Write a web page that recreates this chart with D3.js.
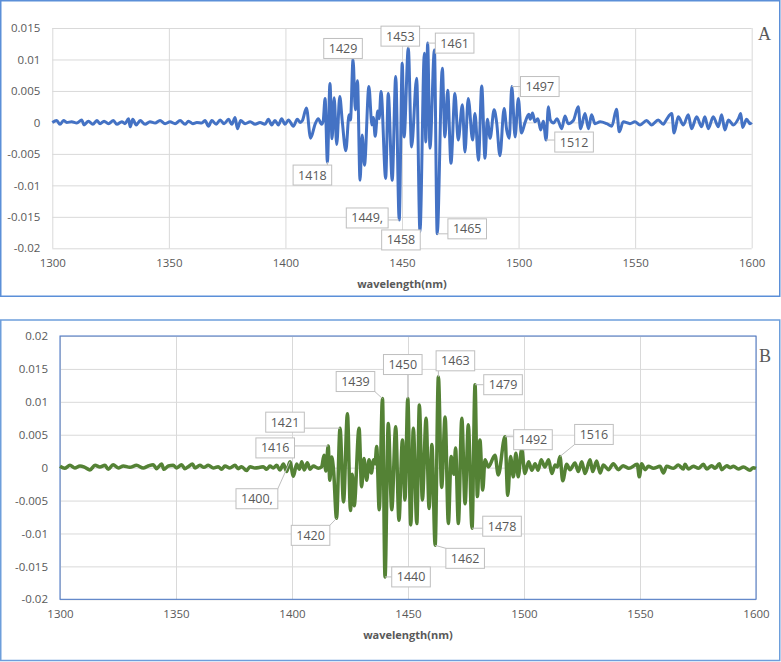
<!DOCTYPE html>
<html>
<head>
<meta charset="utf-8"/>
<title>wavelength spectra A / B</title>
<script src="https://cdn.jsdelivr.net/npm/d3@7"></script>
<style>
  body { margin: 0; background: #fff; }
  svg text { font-family: "Open Sans", "Liberation Sans", sans-serif; fill: #595959; }
</style>
</head>
<body>
<svg id="chart" width="781" height="662"></svg>
<script>
// ---- data ----
var xTicks = [1300, 1350, 1400, 1450, 1500, 1550, 1600];
var yTicksA = [0.015, 0.01, 0.005, 0, -0.005, -0.01, -0.015, -0.02];
var yTicksB = [0.02, 0.015, 0.01, 0.005, 0, -0.005, -0.01, -0.015, -0.02];
var xTitle = "wavelength(nm)";

// turning points of the signal, [wavelength nm, value]
var specA = [[1300,0],[1301.9,0.0003],[1303.3,-0.0003],[1304.8,0.0003],[1306.2,0],[1308.3,0.0001],[1310.5,-0.0001],
  [1312.6,0.0004],[1313.6,-0.0004],[1315.5,0.0002],[1317.4,-0.0003],[1319.1,0.0003],[1320.5,-0.0002],[1322.2,0.0002],
  [1324.1,-0.0002],[1326.2,0.0003],[1327.7,-0.0003],[1329.8,0.0001],[1331.2,-0.0002],[1332.7,0.0006],[1333.4,-0.0007],
  [1334.5,0.0005],[1336,-0.0004],[1337.7,0.0003],[1339.8,-0.0003],[1341.9,0.0001],[1344.1,-0.0001],[1346.2,0.0003],
  [1348.4,-0.0002],[1350.5,0.0001],[1352.7,-0.0002],[1354.8,0.0003],[1357,-0.0003],[1358.4,0.0002],[1360.3,-0.0002],
  [1362,0],[1364.1,-0.0001],[1365.5,0.0003],[1367,-0.0006],[1368.4,0.0003],[1370.3,-0.0003],[1372,0.0004],[1373.7,-0.0002],
  [1375.6,0.0005],[1377,-0.0003],[1378.4,0.0008],[1379.4,-0.001],[1380.8,0.0003],[1382.7,-0.0002],[1384.9,0.0001],
  [1387,-0.0003],[1389.1,0],[1391.2,-0.0003],[1392.7,0.0005],[1394.1,-0.0004],[1395.5,0.0003],[1397,-0.0004],
  [1398.4,0.0006],[1399.8,-0.0003],[1401.3,0.0004],[1403.4,-0.0006],[1405.1,0.0005],[1406.3,0],[1407.3,0.0003],
  [1409,0.0023],[1410.8,-0.0025],[1412.7,-0.0003],[1414.1,0.0006],[1415.5,-0.0003],[1416.2,0.0002],[1417,0.0038],
  [1418,-0.0063],[1419.1,0.0062],[1420,-0.0026],[1420.9,0.0039],[1422,-0.0035],[1423.3,0.0041],[1424.4,0.0001],
  [1425.9,-0.0045],[1427.3,0.0012],[1427.9,0.0004],[1429,0.01],[1430,0.002],[1430.9,0.0066],[1432,-0.0092],
  [1432.9,-0.002],[1433.9,-0.0068],[1435.8,0.0057],[1437.1,-0.0004],[1437.7,0.0008],[1438.5,-0.0022],[1439.6,0.0018],
  [1440.2,0.0006],[1441,0.0049],[1443,-0.0089],[1444.1,0.0046],[1445.8,-0.0092],[1447.3,0.0073],[1448.8,-0.0155],
  [1450.1,0.0094],[1450.9,-0.0023],[1452.7,0.0118],[1454.1,-0.0039],[1456.3,0.007],[1457.7,-0.0174],[1459.6,0.011],
  [1460.2,-0.0031],[1461,0.0126],[1462,-0.0041],[1463.9,0.0115],[1465.1,-0.0177],[1467.3,0.0086],[1468.4,-0.0023],
  [1469.6,0.0051],[1471,-0.0065],[1472.7,0.0046],[1474.1,-0.0028],[1475.9,0.0028],[1477,-0.0047],[1478.4,0.0038],
  [1480.3,-0.0028],[1481.3,0.0014],[1482.8,-0.006],[1484.2,0.0058],[1485.6,-0.0057],[1486.6,0.0005],[1487.8,-0.0025],
  [1489.5,0.002],[1490.6,0],[1492,-0.0053],[1493.8,0.0022],[1494.9,-0.0012],[1496,-0.0025],[1497.1,0.0057],
  [1498.5,-0.0023],[1499.9,0.0038],[1501.2,-0.0017],[1502.8,0],[1504.4,0.0013],[1505,0.0005],[1506,0.0015],
  [1507,0.0001],[1508.3,0.0006],[1509.5,-0.0012],[1510.6,0.0002],[1511.8,-0.0028],[1512.8,0.0025],[1513.6,0.0004],
  [1515,-0.0001],[1516.5,0.0006],[1518.5,-0.001],[1519.9,0.001],[1521.3,-0.0002],[1523.5,0.0003],[1525.6,0.0025],
  [1526.6,-0.001],[1528.5,0.0014],[1530,-0.001],[1531.3,0.0012],[1532.8,-0.0002],[1535,0.0001],[1537.8,-0.0002],
  [1540,-0.0006],[1542,0.0021],[1543.2,-0.0015],[1544.9,0.0001],[1547.8,-0.0002],[1549.9,0.0001],[1552.1,-0.0004],
  [1554.9,0.0003],[1557,-0.0004],[1559.9,0.0004],[1562.1,-0.0003],[1563.5,0.0005],[1565.7,0.0014],[1566.7,-0.0017],
  [1568.5,0.0009],[1570.7,-0.0004],[1572.8,0.0012],[1574.2,-0.001],[1576.4,0.0009],[1578.5,-0.0007],[1579.9,0.0009],
  [1581.4,-0.001],[1583.5,0.0009],[1585.7,-0.0007],[1587.1,0.0012],[1588.5,-0.0012],[1590,0.0004],[1592.1,-0.0004],
  [1594.3,0.0006],[1595.3,0.0014],[1596.1,-0.0008],[1597.8,0.0005],[1599.3,-0.0002],[1600,0]];

var specB = [[1300,0.0002],[1302,-0.0001],[1304.3,0.00035],[1306.4,-0.00005],[1308.6,0.00025],[1310.7,0.00005],
  [1312.9,-0.00035],[1315.1,0.00035],[1317.2,0.0001],[1319.4,0.00035],[1320.8,-0.00025],[1322.9,0.00045],
  [1325.1,-0.00005],[1327.3,0.00025],[1330.1,0.00005],[1333,0.00035],[1335.9,-0.00005],[1338,0.00025],[1340.2,0.00045],
  [1341.6,-0.00015],[1343.8,0.00055],[1344.8,-0.00025],[1346.7,0.00025],[1348.8,0.00035],[1350.3,-0.00005],
  [1352.4,0.00045],[1353.8,-0.00015],[1355.3,0.00015],[1357.1,0.00055],[1358.2,-0.00005],[1360.3,0.00035],[1362,0.00005],
  [1363.9,0.00035],[1366.1,-0.00005],[1368.2,0.00015],[1369.6,-0.00025],[1371.1,0.00025],[1373.2,-0.00005],
  [1375.4,0.00035],[1376.8,-0.00015],[1378.3,0.00015],[1380.4,-0.00045],[1381.9,0.00015],[1384,-0.00005],
  [1386.2,0.00005],[1387.6,0.00015],[1389.1,-0.00025],[1390.5,0.00025],[1391.9,-0.00005],[1393.4,0.00035],
  [1394.8,-0.00035],[1396.3,0.00055],[1397.7,-0.0006],[1399.1,0.0009],[1400.6,-0.0013],[1402,0.00055],[1403.2,-0.00025],
  [1404.2,0.0009],[1405.3,-0.00035],[1406.6,0.00075],[1407.8,-0.00025],[1409.2,0.00025],[1411.3,-0.0001],
  [1412.8,0.00015],[1413.8,0.0019],[1414.6,-0.0005],[1415.6,0.0033],[1416.3,-0.0019],[1417.1,0.0016],[1417.9,-0.0003],
  [1419.2,-0.0077],[1420.7,0.006],[1422.2,-0.0052],[1423.9,0.0082],[1425.2,-0.0065],[1426,-0.001],[1426.8,-0.0058],
  [1428.9,0.006],[1430,-0.0029],[1431,0.0014],[1432.2,-0.0019],[1433.2,0.0012],[1434.2,-0.0008],[1435.2,0.0012],
  [1435.8,0.0006],[1436.5,0.0032],[1437.6,-0.0064],[1439,0.0105],[1440.1,-0.0166],[1441.5,0.0067],[1443,-0.0064],
  [1444.7,0.0062],[1446.1,-0.008],[1447.6,0.0042],[1448.7,-0.0049],[1449.9,0.0105],[1451.2,-0.0087],[1452.3,0.006],
  [1453.8,-0.0085],[1454.9,0.0095],[1456.2,-0.0049],[1457.8,0.0075],[1459.1,-0.0062],[1460.3,0.0035],[1461.7,-0.0118],
  [1463.1,0.0138],[1464.5,-0.003],[1466,0.0077],[1467.4,-0.0085],[1468.6,0.0017],[1469.8,-0.001],[1470.5,0.003],
  [1471.7,-0.0085],[1473.2,0.0075],[1474.6,-0.0055],[1476,0.0065],[1477.6,-0.0092],[1478.9,0.0126],[1479.9,-0.0044],
  [1481,0.0042],[1482.2,-0.0034],[1483.2,0.0012],[1484.6,0.0001],[1487.5,0.0019],[1488.9,-0.0011],[1491.8,0.0047],
  [1493,-0.0042],[1494.2,0.0017],[1495.4,-0.0014],[1496.5,0.0022],[1497.5,-0.0014],[1499,0.0028],[1500.4,-0.0009],
  [1502,0.0009],[1503.4,-0.0004],[1504.8,0.0006],[1506.1,-0.0004],[1507.4,0.0012],[1509,0.0001],[1510.6,0.0012],
  [1512,-0.0009],[1513.4,0.0004],[1514.4,0.0001],[1515.5,0.0017],[1516.7,-0.002],[1518.4,0.0005],[1519.8,-0.0003],
  [1522,0.0007],[1523.4,-0.0006],[1524.9,0.0009],[1526.3,-0.0009],[1528.5,0.0012],[1529.6,-0.0006],[1531.3,0.001],
  [1532.8,-0.0008],[1534.2,0.0004],[1536.4,-0.0003],[1538.5,0.0006],[1540.7,-0.0003],[1542.7,0.0003],[1545.2,-0.0001],
  [1548.8,0.0005],[1549.7,-0.0014],[1550.7,0.0006],[1552.2,-0.0003],[1553.6,0.0002],[1555.8,-0.0001],[1558.6,0.0002],
  [1560.1,-0.0008],[1561.5,0.0002],[1564.4,-0.0001],[1566.5,0.0004],[1568.7,-0.0002],[1569.4,0.0005],[1570.9,-0.0002],
  [1573,0.0002],[1575.2,-0.0001],[1577.3,0.0005],[1578.8,-0.0002],[1580.9,0.0003],[1582.4,-0.0001],[1584.2,0.0006],
  [1585.2,-0.0003],[1587.4,0.0003],[1588.8,0],[1590.3,0.0002],[1592.4,-0.0002],[1594.6,0.0001],[1597.4,-0.0004],
  [1598.8,0],[1600,-0.0001]];

// callout text + wavelength of the marked point
var calloutsA = [["1429",1429],["1453",1452.7],["1461",1461],["1418",1418],["1449,",1448.8],
  ["1458",1457.7],["1465",1465.1],["1497",1497.1],["1512",1511.8]];
var calloutsB = [["1439",1439],["1450",1449.9],["1463",1463.1],["1479",1478.9],["1421",1420.7],
  ["1416",1415.6],["1400,",1399.1],["1420",1419.2],["1440",1440.1],["1462",1461.7],["1478",1477.6],
  ["1492",1491.8],["1516",1515.5]];

// ---- layout ----
// where each callout box sits, px from its point
var offA = [[-10,-11],[-8,-12],[27,0],[-15,13],[-32,-2],[-19,8],[30,-5],[28,0],[28,2]];
var offB = [[-27,-17],[-5,-34],[17,-16],[28,0],[-55,-6],[-53,2],[-33,37],[-26,17],[26,0],[30,13],[30,-2],[28,3],[34,-22]];

var svg = d3.select("#chart");

function drawPanel(p) {
  var g = svg.append("g");

  // outer frame
  g.append("rect")
    .attr("x", p.frame[0]).attr("y", p.frame[1])
    .attr("width", p.frame[2]).attr("height", p.frame[3])
    .attr("fill", "#fff").attr("stroke", p.frameColor).attr("stroke-width", 1.5);

  var x = d3.scaleLinear().domain([1300, 1600]).range([p.left, p.right]);
  var y = d3.scaleLinear().domain([p.yTicks[p.yTicks.length - 1], p.yTicks[0]]).range([p.bottom, p.top]);

  // grid
  g.append("g").attr("transform", "translate(0," + p.bottom + ")")
    .call(d3.axisBottom(x).tickValues(xTicks).tickSize(-(p.bottom - p.top)).tickFormat(""))
    .call(function(s) { s.select(".domain").remove(); s.selectAll("line").attr("stroke", "#d9d9d9"); });
  g.append("g").attr("transform", "translate(" + p.left + ",0)")
    .call(d3.axisLeft(y).tickValues(p.yTicks).tickSize(-(p.right - p.left)).tickFormat(""))
    .call(function(s) { s.select(".domain").remove(); s.selectAll("line").attr("stroke", "#d9d9d9"); });

  if (p.plotBorder) {
    g.append("rect").attr("x", p.left).attr("y", p.top)
      .attr("width", p.right - p.left).attr("height", p.bottom - p.top)
      .attr("fill", "none").attr("stroke", p.plotBorder).attr("stroke-width", 1);
  }

  // tick labels
  g.append("g").attr("transform", "translate(" + p.left + ",0)")
    .call(d3.axisLeft(y).tickValues(p.yTicks).tickSize(0).tickPadding(12).tickFormat(function(d) { return String(+d.toFixed(3)); }))
    .call(function(s) { s.select(".domain").remove(); s.selectAll("text").attr("font-size", 11.5).attr("fill", "#595959").style("font-family", "Open Sans"); });
  g.append("g").attr("transform", "translate(0," + p.bottom + ")")
    .call(d3.axisBottom(x).tickValues(xTicks).tickSize(0).tickPadding(11).tickFormat(d3.format("d")))
    .call(function(s) { s.select(".domain").remove(); s.selectAll("text").attr("font-size", 11.5).attr("fill", "#595959").style("font-family", "Open Sans"); });

  g.append("text")
    .attr("x", (p.left + p.right) / 2).attr("y", p.titleY)
    .attr("text-anchor", "middle").attr("font-size", 11).attr("font-weight", "bold")
    .text(xTitle);

  // the signal
  var line = d3.line().x(function(d) { return x(d[0]); }).y(function(d) { return y(d[1]); })
    .curve(d3.curveMonotoneX);
  g.append("path").datum(p.data)
    .attr("fill", "none").attr("stroke", p.color).attr("stroke-width", p.width)
    .attr("stroke-linejoin", "round").attr("d", line);

  // callouts
  p.callouts.forEach(function(c, i) {
    var pt = d3.least(p.data, function(d) { return Math.abs(d[0] - c[1]); });
    var ax = x(pt[0]), ay = y(pt[1]);
    var cx = ax + p.offsets[i][0], cy = ay + p.offsets[i][1];
    var cg = g.append("g");
    var t = cg.append("text").attr("x", cx).attr("y", cy + 4.5)
      .attr("text-anchor", "middle").attr("font-size", 12.5).text(c[0]);
    var hw = t.node().getComputedTextLength() / 2 + 5, hh = 10;
    var ex = Math.max(cx - hw, Math.min(cx + hw, ax));
    var ey = Math.max(cy - hh, Math.min(cy + hh, ay));
    cg.insert("line", "text").attr("x1", ex).attr("y1", ey).attr("x2", ax).attr("y2", ay)
      .attr("stroke", "#bfbfbf").attr("stroke-width", 1);
    cg.insert("rect", "text").attr("x", cx - hw).attr("y", cy - hh)
      .attr("width", 2 * hw).attr("height", 2 * hh)
      .attr("fill", "#fff").attr("stroke", "#bfbfbf").attr("stroke-width", 1);
  });

  g.append("text").attr("x", p.letter[1]).attr("y", p.letter[2])
    .attr("font-size", 18).style("font-family", "Liberation Serif").attr("fill", "#222")
    .text(p.letter[0]);
}

drawPanel({
  frame: [0.75, 0.75, 779, 295.5], frameColor: "#5b8fd8",
  left: 52.3, right: 751.7, top: 28, bottom: 248.3,
  yTicks: yTicksA, data: specA, color: "#4472c4", width: 3,
  callouts: calloutsA, offsets: offA, titleY: 288, letter: ["A", 758, 40]
});
drawPanel({
  frame: [0.75, 320, 779, 340.5], frameColor: "#6d9edb",
  left: 60, right: 756, top: 336, bottom: 599.3, plotBorder: "#4472c4",
  yTicks: yTicksB, data: specB, color: "#548235", width: 3.5,
  callouts: calloutsB, offsets: offB, titleY: 639, letter: ["B", 759, 362]
});
</script>
</body>
</html>
